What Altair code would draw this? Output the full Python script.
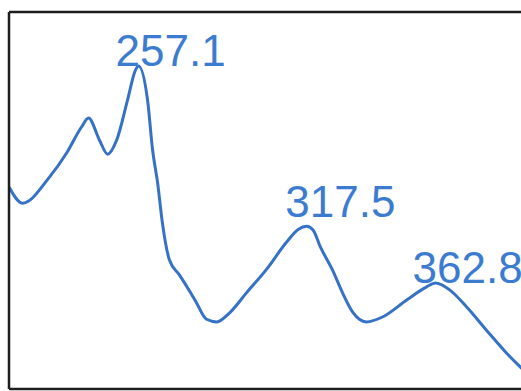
import altair as alt
import pandas as pd

# Spectrum trace (wavelength in nm, absorbance in arbitrary units)
wavelength = [211.0, 215.8, 225.4, 231.5, 236.8, 239.3, 243.2, 246.1, 249.3, 253.2,
              256.0, 257.1, 260.3, 262.1, 263.9, 265.6, 268.1, 271.7, 275.9, 277.7,
              281.3, 284.9, 289.5, 295.5, 302.7, 309.8, 314.0, 316.9, 319.2, 321.8,
              326.1, 329.7, 333.3, 338.2, 343.9, 352.5, 359.6, 362.8, 367.8, 373.8,
              380.9, 388.1, 393.0, 397.0]
absorbance = [0.536, 0.493, 0.562, 0.626, 0.695, 0.719, 0.660, 0.623, 0.660, 0.767,
              0.846, 0.857, 0.767, 0.634, 0.546, 0.440, 0.342, 0.302, 0.252, 0.229,
              0.185, 0.178, 0.202, 0.255, 0.318, 0.390, 0.424, 0.432, 0.422, 0.377,
              0.316, 0.255, 0.204, 0.178, 0.191, 0.236, 0.271, 0.281, 0.263, 0.218,
              0.156, 0.095, 0.058, 0.030]

# Peak labels
peak_labels = ["257.1", "317.5", "362.8"]
peak_x = [257.1, 317.5, 362.8]
peak_y = [0.857, 0.432, 0.281]
peak_dy = [0, -9, 0]

df = pd.DataFrame({"wl": wavelength, "a": absorbance})

xs = alt.Scale(domain=[211, 393.2], nice=False, zero=False)
ys = alt.Scale(domain=[0, 1], nice=False, zero=False)

W, H = 512, 377

line = alt.Chart(df).mark_line(
    color="#3572c6", strokeWidth=3, interpolate="monotone", clip=True
).encode(
    x=alt.X("wl:Q", scale=xs, axis=None),
    y=alt.Y("a:Q", scale=ys, axis=None),
)

frame_col = "#1e1e1e"
frame_left = alt.Chart(pd.DataFrame({"d": [0]})).mark_rule(
    color=frame_col, strokeWidth=2.5
).encode(x=alt.value(0), y=alt.value(0), y2=alt.value(H))
frame_top = alt.Chart(pd.DataFrame({"d": [0]})).mark_rule(
    color=frame_col, strokeWidth=2.5
).encode(x=alt.value(0), x2=alt.value(W + 5), y=alt.value(0))
frame_bottom = alt.Chart(pd.DataFrame({"d": [0]})).mark_rule(
    color=frame_col, strokeWidth=2.5
).encode(x=alt.value(0), x2=alt.value(W + 5), y=alt.value(H))

layers = [line, frame_left, frame_top, frame_bottom]
for lab, px, py, dy in zip(peak_labels, peak_x, peak_y, peak_dy):
    tdf = pd.DataFrame({"wl": [px], "a": [py], "t": [lab]})
    layers.append(
        alt.Chart(tdf).mark_text(
            align="left", baseline="alphabetic", dx=-23, dy=dy, clip=True,
            font="Liberation Sans", fontSize=44, color="#3b7bd0"
        ).encode(
            x=alt.X("wl:Q", scale=xs, axis=None),
            y=alt.Y("a:Q", scale=ys, axis=None),
            text="t:N",
        )
    )

chart = alt.layer(*layers).properties(
    width=W, height=H,
    padding={"left": 9, "top": 12, "right": 0, "bottom": 2},
    autosize=alt.AutoSizeParams(type="none"),
    background="white",
).configure_view(stroke=None)

chart.save("out.html", embed_options={"renderer": "svg", "actions": False})
